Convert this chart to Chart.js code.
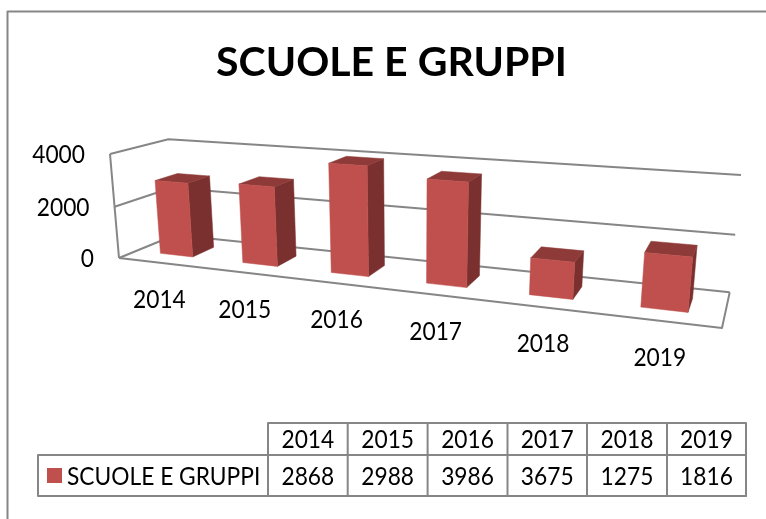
<!DOCTYPE html>
<html><head><meta charset="utf-8">
<style>html,body{margin:0;padding:0;background:#fff}#w{width:766px;height:519px;position:relative}</style>
<script src="https://cdn.jsdelivr.net/npm/chart.js@4/dist/chart.umd.min.js"></script>
</head><body><div id="w"><canvas id="c" width="766" height="519"></canvas></div>
<script>
const chartTitle = 'SCUOLE E GRUPPI';
const seriesName = 'SCUOLE E GRUPPI';
const categories = ['2014','2015','2016','2017','2018','2019'];
const values = [2868,2988,3986,3675,1275,1816];
const FONT = 'Lato, Carlito, Calibri, sans-serif';
const LINE = '#868686', FRONT = '#C0504D', SIDE = '#7A302E', TOP = '#8D3A38';

// perspective camera: images of the box origin and the unit points along each axis, with weights
const CAM = {O:[119,258],A:[722,328],B:[110,154],C:[175,235],ws:.79,wh:.97,wd:1.09};
function project(s,h,d){
  const a=1-s-h-d, p=s*CAM.ws, q=h*CAM.wh, r=d*CAM.wd, D=a+p+q+r;
  return [(a*CAM.O[0]+p*CAM.A[0]+q*CAM.B[0]+r*CAM.C[0])/D,
          (a*CAM.O[1]+p*CAM.A[1]+q*CAM.B[1]+r*CAM.C[1])/D];
}
function poly(ctx,pts,fill){
  ctx.beginPath();pts.forEach((p,i)=>i?ctx.lineTo(p[0],p[1]):ctx.moveTo(p[0],p[1]));
  if(fill){ctx.closePath();ctx.fillStyle=fill;ctx.fill();ctx.strokeStyle=fill;ctx.lineWidth=.5;ctx.stroke();}
  else{ctx.stroke();}
}
// narrow text: Calibri-like proportions from Lato
const TEXT_SX=.91;
function label(ctx,str,x,y,align){
  ctx.save();ctx.translate(x,y);ctx.scale(TEXT_SX,1);ctx.textAlign=align;ctx.fillText(str,0,0);ctx.restore();
}
const BAR_D0=.3, BAR_D1=.7;
const TABLE={xs:[268,347.7,427.6,507.5,587,667,746],top:423,mid:455,bottom:496,left:38};

const box3d={id:'box3d',
  beforeDatasetsDraw(chart){
    const ctx=chart.ctx,a=chart.chartArea,y=chart.scales.y,x=chart.scales.x;
    const H=v=>(a.bottom-y.getPixelForValue(v))/a.height;
    ctx.save();ctx.lineJoin='round';
    // frame
    ctx.strokeStyle=LINE;ctx.lineWidth=2;
    ctx.beginPath();ctx.moveTo(7.5,519);ctx.lineTo(7.5,11.5);ctx.lineTo(766,11.5);ctx.stroke();
    // walls, floor, gridlines
    ctx.lineWidth=2;ctx.strokeStyle=LINE;
    y.ticks.forEach(t=>{const h=H(t.value);
      poly(ctx,[project(0,h,0),project(0,h,1),project(1,h,1)]);});
    poly(ctx,[project(0,0,0),project(0,H(y.max),0)]);
    poly(ctx,[project(0,0,0),project(1,0,0),project(1,0,1)]);
    // bars
    chart.getDatasetMeta(0).data.forEach(el=>{
      const s0=(el.x-el.width/2-a.left)/a.width,s1=(el.x+el.width/2-a.left)/a.width;
      const h=(el.base-el.y)/a.height,d0=BAR_D0,d1=BAR_D1;
      poly(ctx,[project(s1,0,d0),project(s1,0,d1),project(s1,h,d1),project(s1,h,d0)],SIDE);
      poly(ctx,[project(s0,h,d0),project(s1,h,d0),project(s1,h,d1),project(s0,h,d1)],TOP);
      poly(ctx,[project(s0,0,d0),project(s1,0,d0),project(s1,h,d0),project(s0,h,d0)],FRONT);
    });
    // axis labels
    ctx.fillStyle='#000';ctx.font='25px '+FONT;ctx.textBaseline='middle';
    y.ticks.forEach(t=>{const p=project(0,H(t.value),0);label(ctx,String(t.value),p[0]-25,p[1]+1,'right');});
    x.getLabels().forEach((lab,i)=>{const s=(x.getPixelForValue(i)-a.left)/a.width,p=project(s,0,0);
      label(ctx,lab,p[0],p[1]+37,'center');});
    // data table
    const T=TABLE;ctx.strokeStyle=LINE;ctx.lineWidth=2;
    ctx.strokeRect(T.left,T.mid,T.xs[6]-T.left,T.bottom-T.mid);
    ctx.strokeRect(T.xs[0],T.top,T.xs[6]-T.xs[0],T.bottom-T.top);
    T.xs.slice(1,6).forEach(v=>{ctx.beginPath();ctx.moveTo(v,T.top);ctx.lineTo(v,T.bottom);ctx.stroke();});
    const ds=chart.data.datasets[0];
    chart.data.labels.forEach((lab,i)=>{const c=(T.xs[i]+T.xs[i+1])/2;
      label(ctx,lab,c,(T.top+T.mid)/2+1,'center');label(ctx,String(ds.data[i]),c,(T.mid+T.bottom)/2+1,'center');});
    ctx.fillStyle=FRONT;ctx.fillRect(47,468,15,15);
    ctx.fillStyle='#000';label(ctx,ds.label,67,(T.mid+T.bottom)/2+1,'left');
    ctx.restore();
    return false; // the native flat bars are replaced by the projected ones
  }};

new Chart(document.getElementById('c'),{
  type:'bar',
  data:{labels:categories,datasets:[{label:seriesName,data:values,backgroundColor:FRONT,categoryPercentage:1,barPercentage:.4}]},
  options:{responsive:false,animation:false,
    layout:{padding:{left:17}},
    plugins:{legend:{display:false},tooltip:{enabled:false},
      title:{display:true,text:chartTitle,color:'#000',font:{family:FONT,size:41,weight:'bold'},padding:{top:38,bottom:20}}},
    scales:{x:{display:false},y:{display:false,min:0,max:4000,ticks:{stepSize:2000}}}},
  plugins:[box3d]
});
</script></body></html>
